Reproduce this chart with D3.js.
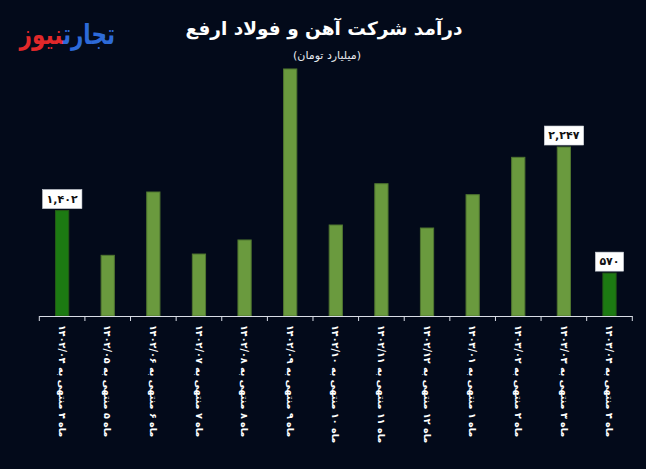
<!DOCTYPE html>
<html><head><meta charset="utf-8">
<script src="https://cdn.jsdelivr.net/npm/d3@7"></script>
<style>
html,body{margin:0;padding:0;background:#030a1a;}
svg{display:block;}
text{font-family:"DejaVu Sans",sans-serif;}
</style></head>
<body><svg id="c" width="646" height="469"></svg>
<script>
const categories = [
 "ماه ۴ منتهی به ۱۴۰۲/۰۴","ماه ۵ منتهی به ۱۴۰۲/۰۵","ماه ۶ منتهی به ۱۴۰۲/۰۶","ماه ۷ منتهی به ۱۴۰۲/۰۷",
 "ماه ۸ منتهی به ۱۴۰۲/۰۸","ماه ۹ منتهی به ۱۴۰۲/۰۹","ماه ۱۰ منتهی به ۱۴۰۲/۱۰","ماه ۱۱ منتهی به ۱۴۰۲/۱۱",
 "ماه ۱۲ منتهی به ۱۴۰۲/۱۲","ماه ۱ منتهی به ۱۴۰۳/۰۱","ماه ۲ منتهی به ۱۴۰۳/۰۲","ماه ۳ منتهی به ۱۴۰۳/۰۳","ماه ۴ منتهی به ۱۴۰۳/۰۴"];
const values = [1402, 807, 1649, 824, 1011, 3285, 1210, 1759, 1170, 1613, 2110, 2247, 570];
const highlighted = [true,false,false,false,false,false,false,false,false,false,false,false,true];
const valueLabels = ["۱,۴۰۲",null,null,null,null,null,null,null,null,null,null,"۲,۲۴۷","۵۷۰"];

const svg = d3.select("#c");
svg.append("rect").attr("width",646).attr("height",469).attr("fill","#030a1a");

const x = d3.scaleBand().domain(categories).range([39.3, 632.3]).paddingInner(0.71).paddingOuter(0.355);
const y = d3.scaleLinear().domain([0, 3300]).range([316, 316 - 3300*0.0752]);

// bars
svg.selectAll("rect.bar").data(values).enter().append("rect")
  .attr("class","bar")
  .attr("x",(d,i)=>x(categories[i]))
  .attr("width",x.bandwidth())
  .attr("y",d=>y(d))
  .attr("height",d=>y(0)-y(d))
  .attr("fill",(d,i)=>highlighted[i]?"#1c7a12":"#6a9a3e")
  .attr("stroke",(d,i)=>highlighted[i]?"#245a16":"#4f7530")
  .attr("stroke-width",1);

// axis
const axisG = svg.append("g").attr("transform","translate(0,316)");
const edges = categories.map(c=>x(c)-x.step()*x.paddingInner()/2);
edges.push(632.3);
axisG.append("line").attr("x1",39.3).attr("x2",632.3).attr("y1",0.5).attr("y2",0.5)
  .attr("stroke","#d9dde6").attr("stroke-width",1.2);
axisG.selectAll("line.tick").data(edges).enter().append("line")
  .attr("class","tick").attr("x1",d=>d).attr("x2",d=>d).attr("y1",0).attr("y2",5)
  .attr("stroke","#d9dde6").attr("stroke-width",1);

// category labels (rotated)
svg.selectAll("text.cat").data(categories).enter().append("text")
  .attr("class","cat")
  .attr("transform",d=>`translate(${x(d)+x.bandwidth()/2},325) rotate(90)`)
  .attr("direction","rtl")
  .attr("text-anchor","end")
  .attr("dy","0.35em")
  .attr("fill","#ffffff")
  .attr("font-size",9.6)
  .attr("font-weight","bold")
  .text(d=>d);

// value labels
values.forEach((v,i)=>{
  if(!valueLabels[i]) return;
  const cx = x(categories[i]) + x.bandwidth()/2;
  const g = svg.append("g");
  const t = g.append("text").attr("x",cx).attr("y",y(v)-11.5)
    .attr("text-anchor","middle").attr("dy","0.35em")
    .attr("font-size",11).attr("font-weight","bold").attr("fill","#111")
    .text(valueLabels[i]);
  const bb = t.node().getBBox();
  g.insert("rect","text").attr("x",bb.x-4).attr("y",y(v)-21).attr("width",bb.width+8).attr("height",19)
    .attr("fill","#ffffff").attr("stroke","#cfd3da").attr("stroke-width",0.6);
});

// title
svg.append("text").attr("x",324).attr("y",35).attr("text-anchor","middle").attr("direction","rtl")
  .attr("fill","#fff").attr("font-size",18.5).attr("font-weight","bold")
  .text("درآمد شرکت آهن و فولاد ارفع");
svg.append("text").attr("x",327).attr("y",59).attr("text-anchor","middle").attr("direction","rtl")
  .attr("fill","#e8eaee").attr("font-size",11)
  .text("(میلیارد تومان)");

// logo
const logo = svg.append("text").attr("transform","translate(115,44) scale(1,1.3)")
  .attr("direction","rtl").attr("text-anchor","start")
  .attr("font-size",21.5).attr("font-weight","bold");
logo.append("tspan").attr("fill","#2d6ad8").text("تجارت");
logo.append("tspan").attr("fill","#e2282a").text("نیوز");
</script></body></html>
